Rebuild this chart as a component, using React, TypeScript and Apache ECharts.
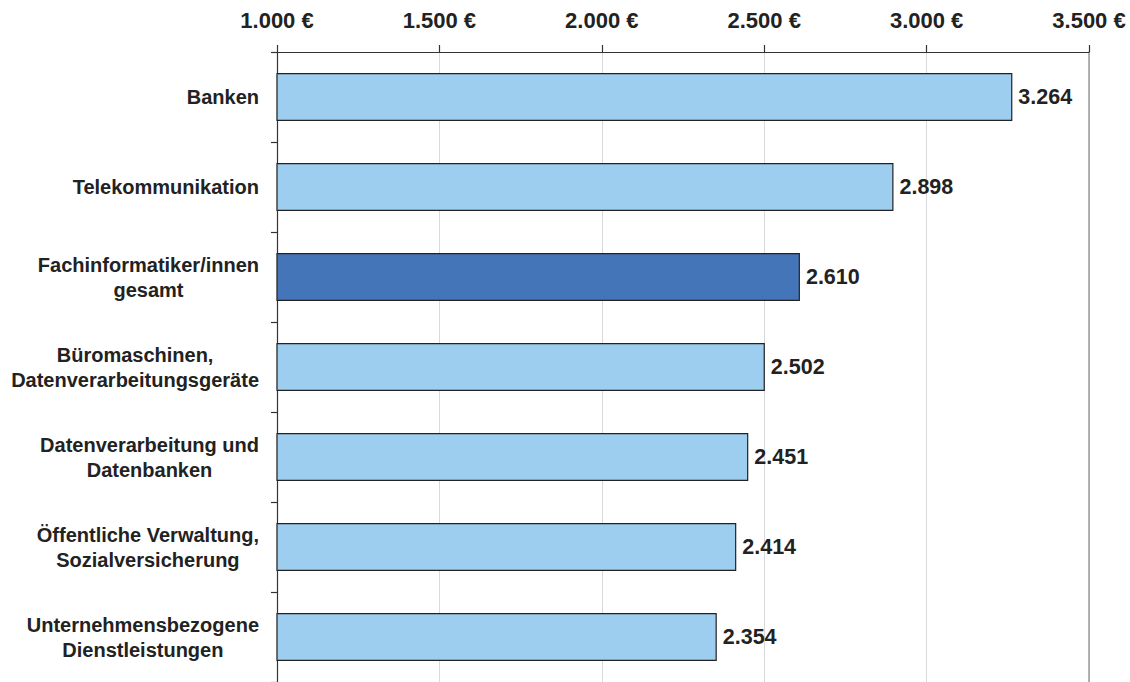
import React, { useEffect, useRef } from "react";
import * as echarts from "echarts";

const categories = [
  "Banken",
  "Telekommunikation",
  "Fachinformatiker/innen\ngesamt",
  "Büromaschinen,\nDatenverarbeitungsgeräte",
  "Datenverarbeitung und\nDatenbanken",
  "Öffentliche Verwaltung,\nSozialversicherung",
  "Unternehmensbezogene\nDienstleistungen",
];
const values = [3264, 2898, 2610, 2502, 2451, 2414, 2354];
const highlightIndex = 2;
const axisMin = 1000;
const axisMax = 3500;
const axisStep = 500;

const fmt = (v: number) => String(Math.round(v)).replace(/\B(?=(\d{3})+(?!\d))/g, ".");

const FONT = "'Liberation Sans', Arial, Helvetica, sans-serif";

export default function App() {
  const ref = useRef<HTMLDivElement>(null);
  useEffect(() => {
    if (!ref.current) return;
    const chart = echarts.init(ref.current, undefined, { renderer: "svg" });
    chart.setOption({
      animation: false,
      backgroundColor: "#ffffff",
      textStyle: { fontFamily: FONT },
      grid: { left: 277, right: 41, top: 52, bottom: -1, containLabel: false },
      xAxis: {
        type: "value",
        position: "top",
        min: axisMin,
        max: axisMax,
        interval: axisStep,
        axisLine: { show: true, lineStyle: { color: "#333", width: 1.2 } },
        axisTick: { show: true, inside: false, length: 7, lineStyle: { color: "#333", width: 1.2 } },
        splitLine: { show: true, lineStyle: { color: "#d9d9d9", width: 1 } },
        axisLabel: {
          margin: 21,
          fontSize: 22,
          fontWeight: "bold",
          color: "#222",
          fontFamily: FONT,
          formatter: (v: number) => fmt(v) + " €",
        },
      },
      yAxis: [
        {
          type: "category",
          data: categories,
          inverse: true,
          axisLine: { show: true, lineStyle: { color: "#333", width: 1.2 } },
          axisTick: { show: true, length: 6, alignWithLabel: false, lineStyle: { color: "#333", width: 1.2 } },
          axisLabel: {
            margin: 18,
            align: "right",
            fontFamily: FONT,
            formatter: (v: string) =>
              v
                .split("\n")
                .map((l) => `{c|${l}}`)
                .join("\n"),
            rich: {
              c: {
                align: "center",
                fontSize: 20,
                fontWeight: "bold",
                color: "#222",
                lineHeight: 25,
                fontFamily: FONT,
              },
            },
          },
        },
        {
          type: "category",
          data: categories,
          inverse: true,
          position: "right",
          axisLine: { show: true, lineStyle: { color: "#9a9a9a", width: 1.5 } },
          axisTick: { show: false },
          axisLabel: { show: false },
        },
      ],
      series: [
        {
          type: "bar",
          yAxisIndex: 0,
          barWidth: 48,
          data: values.map((v, i) => ({
            value: v,
            itemStyle: { color: i === highlightIndex ? "#4575b9" : "#9dcdef" },
          })),
          itemStyle: { borderColor: "#222", borderWidth: 1.2 },
          label: {
            show: true,
            position: "right",
            distance: 6,
            fontSize: 21.5,
            fontWeight: "bold",
            color: "#222",
            fontFamily: FONT,
            formatter: (p: any) => fmt(p.value),
          },
        },
      ],
    });
    return () => chart.dispose();
  }, []);
  return (
    <div
      ref={ref}
      style={{ position: "absolute", left: 0, top: 0, width: 1130, height: 682 }}
    />
  );
}
